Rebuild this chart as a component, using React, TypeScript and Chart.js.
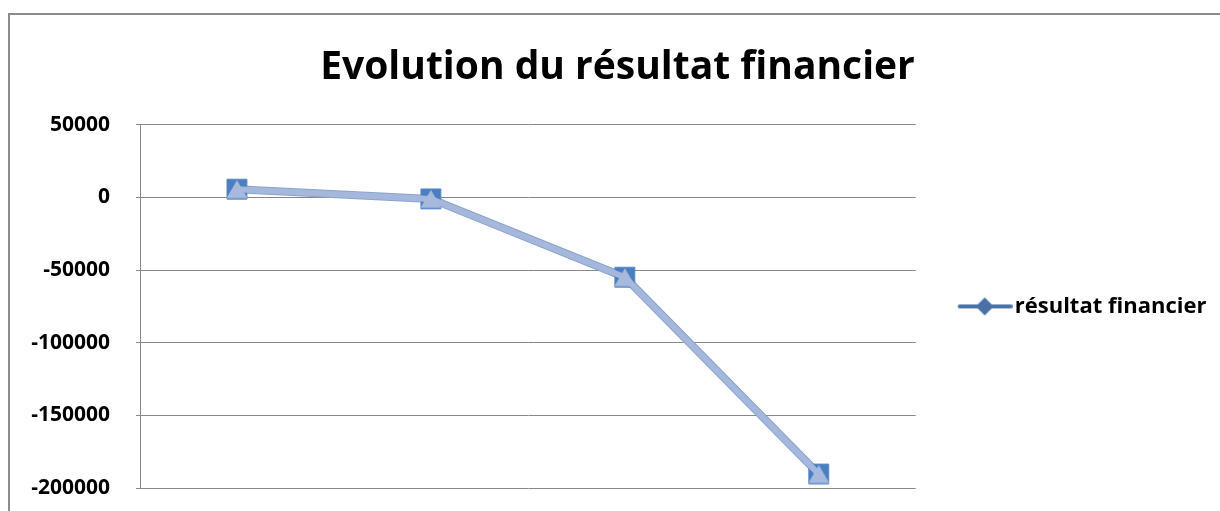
import React, { useEffect, useRef } from "react";
import { Chart, registerables } from "chart.js";

Chart.register(...registerables);

const categories = ["1", "2", "3", "4"];
const resultatFinancier = [5700, -1000, -54900, -190400];
const yMin = -200000;
const yMax = 50000;
const yStep = 50000;
const seriesName = "résultat financier";
const titleText = "Evolution du résultat financier";

function makeTriangle(): HTMLCanvasElement {
  const cv = document.createElement("canvas");
  cv.width = 22;
  cv.height = 19;
  const c = cv.getContext("2d")!;
  c.fillStyle = "#A7BADD";
  c.beginPath();
  c.moveTo(11, 0.5);
  c.lineTo(21.5, 18.5);
  c.lineTo(0.5, 18.5);
  c.closePath();
  c.fill();
  return cv;
}

// legend glyph: blank space on the left, then line with diamond
function makeLegendIcon(): HTMLCanvasElement {
  const cv = document.createElement("canvas");
  cv.width = 96;
  cv.height = 20;
  const c = cv.getContext("2d")!;
  c.strokeStyle = "#4A71A6";
  c.lineWidth = 4;
  c.lineCap = "round";
  c.beginPath();
  c.moveTo(43, 10);
  c.lineTo(94, 10);
  c.stroke();
  c.fillStyle = "#4A71A6";
  c.beginPath();
  c.moveTo(68, 1);
  c.lineTo(77, 10);
  c.lineTo(68, 19);
  c.lineTo(59, 10);
  c.closePath();
  c.fill();
  return cv;
}

export default function App() {
  const ref = useRef<HTMLCanvasElement>(null);

  useEffect(() => {
    const tri = makeTriangle();
    const legendIcon = makeLegendIcon();
    const font = "'Open Sans'";
    const chart = new Chart(ref.current!, {
      type: "line",
      data: {
        labels: categories,
        datasets: [
          {
            label: seriesName,
            data: resultatFinancier,
            borderColor: "#A5B8DC",
            borderWidth: 6,
            pointStyle: tri as any,
            pointRadius: 10,
            pointBackgroundColor: "#A7BADD",
            pointBorderWidth: 0,
            tension: 0,
            order: 0,
          },
          {
            label: seriesName + " ",
            data: resultatFinancier,
            borderColor: "#8AA4CF",
            borderWidth: 8,
            pointStyle: "rect",
            pointRadius: 14.1,
            pointBackgroundColor: "#4A7EBF",
            pointBorderColor: "#5A8BC6",
            pointBorderWidth: 1,
            tension: 0,
            order: 1,
          },
        ],
      },
      options: {
        animation: false,
        responsive: false,
        maintainAspectRatio: false,
        layout: { padding: { left: 11, right: 6, top: 0, bottom: 23 } },
        plugins: {
          title: {
            display: true,
            text: titleText,
            color: "#000000",
            font: { family: font, size: 39, weight: "bold" },
            padding: { top: 29, bottom: 34 },
          },
          legend: {
            position: "right",
            fullSize: false,
            labels: {
              usePointStyle: true,
              pointStyleWidth: 78,
              boxHeight: 20,
              padding: 10,
              color: "#000000",
              font: { family: font, size: 22, weight: "bold" },
              generateLabels: () => [
                {
                  text: seriesName,
                  pointStyle: legendIcon as any,
                  fillStyle: "#4A71A6",
                  strokeStyle: "#4A71A6",
                  lineWidth: 0,
                  hidden: false,
                  datasetIndex: 0,
                } as any,
              ],
            },
            onClick: () => {},
          },
          tooltip: { enabled: false },
        },
        scales: {
          x: {
            type: "category",
            offset: true,
            display: false,
          },
          y: {
            min: yMin,
            max: yMax,
            afterFit: (s: any) => {
              s.width = 119;
              s.paddingTop = 0;
              s.paddingBottom = 0;
            },
            ticks: {
              stepSize: yStep,
              padding: 26,
              color: "#000000",
              font: { family: font, size: 21, weight: "bold" },
              callback: (v: any) => String(v),
            },
            grid: {
              color: "#888888",
              lineWidth: 1,
              tickLength: 4,
              drawTicks: true,
            },
            border: { display: true, color: "#888888", width: 1 },
          },
        },
      },
    });
    return () => chart.destroy();
  }, []);

  return (
    <div
      style={{
        position: "fixed",
        left: 8,
        top: 13,
        width: 1212,
        height: 498,
        borderTop: "2px solid #8C8C8C",
        borderLeft: "2px solid #8C8C8C",
        background: "#ffffff",
        boxSizing: "border-box",
      }}
    >
      <canvas ref={ref} width={1210} height={496} style={{ display: "block" }} />
    </div>
  );
}
